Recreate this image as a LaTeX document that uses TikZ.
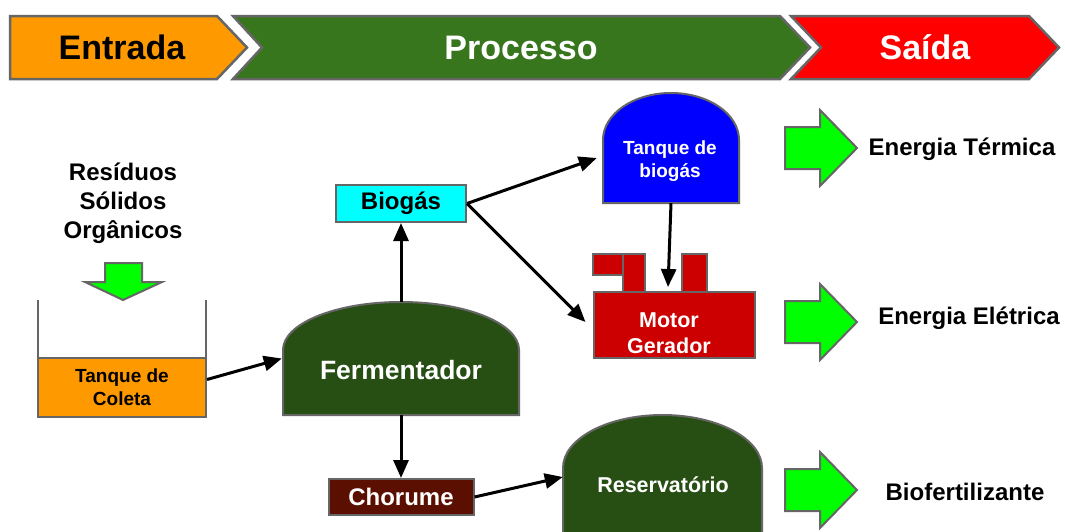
\documentclass[tikz,border=0pt]{standalone}
\usepackage{fontspec}
\setmainfont{Liberation Sans}
\usetikzlibrary{arrows.meta,calc}

\definecolor{stageorange}{HTML}{FF9900}
\definecolor{stagegreen}{HTML}{38761D}
\definecolor{stagered}{HTML}{FF0000}
\definecolor{darkgreen}{HTML}{274E13}
\definecolor{motorred}{HTML}{CC0000}
\definecolor{leachate}{HTML}{5B0F00}
\definecolor{gascyan}{HTML}{00FFFF}
\definecolor{tankblue}{HTML}{0000FF}
\definecolor{outgreen}{HTML}{00FF00}
\definecolor{edgegray}{HTML}{666666}

% dome-shaped vessel: left x, right x, top y, shoulder y, bottom y, style
\newcommand\drawdome[6]{%
  \draw[#6] (#1,#5) -- (#1,#4)
    .. controls (#1,{#4-0.5523*(#4-#3)}) and ({(#1+#2)/2-0.5523*(#2-#1)/2},#3) .. ({(#1+#2)/2},#3)
    .. controls ({(#1+#2)/2+0.5523*(#2-#1)/2},#3) and (#2,{#4-0.5523*(#4-#3)}) .. (#2,#4)
    -- (#2,#5) -- cycle;}

% fat green output arrow centred at height #1
\newcommand\outarrow[1]{%
  \draw[outarr] (785,{#1-21}) -- (820,{#1-21}) -- (820,{#1-38}) -- (857,#1)
    -- (820,{#1+38}) -- (820,{#1+21}) -- (785,{#1+21}) -- cycle;}

\begin{document}
\begin{tikzpicture}[x=1pt,y=-1pt,
  stage/.style={draw=edgegray, line width=2.5pt, line join=miter},
  part/.style={draw=edgegray, line width=2pt},
  outarr/.style={draw=edgegray, line width=2pt, fill=outgreen, line join=miter},
  area/.style={inner sep=0pt, minimum width=#1},
  conn/.style={draw=black, line width=3pt, -{Triangle[length=18pt,width=15pt]}},
  hdrtext/.style={font=\fontsize{34}{40}\selectfont\bfseries},
  lbl/.style={font=\fontsize{24}{29}\selectfont\bfseries, align=center},
  small/.style={font=\fontsize{19}{23}\selectfont\bfseries, align=center},
  mid/.style={font=\fontsize{21.5}{26}\selectfont\bfseries, align=center},
  outtext/.style={font=\fontsize{24}{28}\selectfont\bfseries},
]
\useasboundingbox (0,0) rectangle (1065,531);
\clip (0,0) rectangle (1065,531);
\fill[white] (0,0) rectangle (1065,531);

% ---- stage banner ----
\draw[stage, fill=stageorange] (10,16) -- (217,16) -- (247,47.5) -- (217,79) -- (10,79) -- cycle;
\draw[stage, fill=stagegreen] (233,16) -- (780,16) -- (810,47.5) -- (780,79) -- (233,79) -- (262,47.5) -- cycle;
\draw[stage, fill=stagered] (791,16) -- (1029,16) -- (1059,47.5) -- (1029,79) -- (791,79) -- (821,47.5) -- cycle;
\node[hdrtext, text=black] (entrada) at (122,47.5) {Entrada};
\node[hdrtext, text=white] (processo) at (521,47.5) {Processo};
\node[hdrtext, text=white] (saida) at (925,47.5) {Saída};

% ---- input ----
\node[lbl] (residuos) at (123,203) {Resíduos\\Sólidos\\Orgânicos};
\draw[outarr] (105,263) -- (142,263) -- (142,282) -- (162,282) -- (123,300) -- (85,282) -- (105,282) -- cycle;

% collection tank
\draw[part, line cap=butt] (38,300) -- (38,358) (206,300) -- (206,358);
\node[part, fill=stageorange, inner sep=0pt, minimum width=168pt, minimum height=59pt,
      small, text=black] (coleta) at (122,387.5) {Tanque de\\Coleta};

% fermenter
\node[area=238pt, minimum height=113pt] (ferm) at (401,358.5) {};
\drawdome{283}{519}{302}{350}{415}{part, fill=darkgreen}
\node[font=\fontsize{26.5}{31}\selectfont\bfseries, text=white] (fermtxt) at (401,370) {Fermentador};

% biogas
\node[part, fill=gascyan, inner sep=0pt, minimum width=130pt, minimum height=37pt,
      font=\fontsize{24}{28}\selectfont\bfseries] (biogas) at (401,203.5) {Biogás};

% biogas tank
\node[area=136pt, minimum height=110pt] (tankb) at (671,148) {};
\drawdome{603}{739}{93}{140}{203}{part, fill=tankblue}
\node[small, text=white] (tankbtxt) at (670,161) {Tanque de\\biogás};

% engine-generator
\draw[part, fill=motorred] (593,254) rectangle (623,275);
\draw[part, fill=motorred] (623,254) rectangle (645,292);
\draw[part, fill=motorred] (682,254) rectangle (707,292);
\node[part, fill=motorred, inner sep=0pt, minimum width=161pt, minimum height=66pt] (motor) at (674,325) {};
\node[mid, text=white] (motortxt) at (669,333) {Motor\\Gerador};

% leachate
\node[part, fill=leachate, inner sep=0pt, minimum width=145pt, minimum height=36pt,
      font=\fontsize{24}{28}\selectfont\bfseries, text=white] (chorume) at (401,497) {Chorume};

% reservoir
\node[area=199pt, minimum height=130pt] (reserv) at (662.5,480) {};
\drawdome{563}{762}{415}{468}{545}{part, fill=darkgreen}
\node[font=\fontsize{21.5}{26}\selectfont\bfseries, text=white] (reservtxt) at (663,485) {Reservatório};

% ---- flows ----
\draw[conn] ([yshift=8pt]coleta.east) -- (ferm.west);
\draw[conn] (ferm.north) -- (biogas.south);
\draw[conn] (ferm.south) -- (chorume.north);
\draw[conn] (biogas.east) -- ([xshift=-6pt,yshift=-10pt]tankb.west);
\draw[conn] (biogas.east) -- ([xshift=-7pt,yshift=3pt]motor.west);
\draw[conn] (tankb.south) -- ([xshift=-6pt,yshift=4pt]motor.north);
\draw[conn] (chorume.east) -- ([yshift=3pt]reserv.west);

% ---- outputs ----
\outarrow{148}
\outarrow{322}
\outarrow{490}
\node[outtext] (termica) at (962,149) {Energia Térmica};
\node[outtext] (eletrica) at (969,318) {Energia Elétrica};
\node[outtext] (biofert) at (965,492) {Biofertilizante};
\end{tikzpicture}
\end{document}
